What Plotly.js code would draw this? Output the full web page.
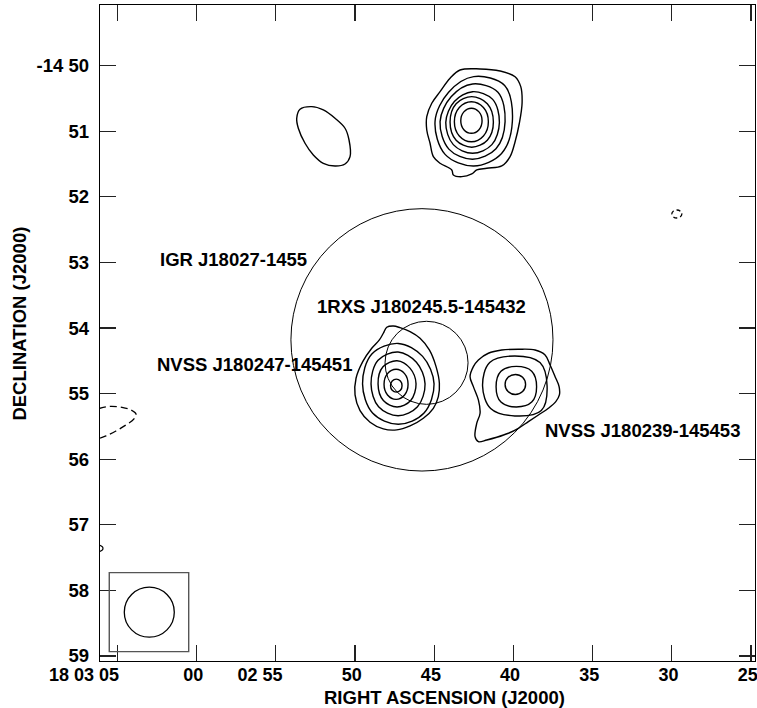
<!DOCTYPE html>
<html><head><meta charset="utf-8">
<script src="https://cdn.plot.ly/plotly-3.0.1.min.js"></script>
<style>html,body{margin:0;padding:0;background:#fff}</style>
</head><body><div id="chart" style="width:757px;height:708px"></div>
<script>
// ---------- axes (RA seconds after 18h02m, Dec arcmin beyond -14 deg) ----------
const raTickVals = [65, 60, 55, 50, 45, 40, 35, 30, 25];
const raTickText = ['18 03 05\u00a0', '00', '02 55', '50', '45', '40', '35', '30', '25'];
const decTickVals = [50, 51, 52, 53, 54, 55, 56, 57, 58, 59];
const decTickText = ['-14 50', '51', '52', '53', '54', '55', '56', '57', '58', '59'];
const raRange = [66.09, 24.75];
const decRange = [59.076, 49.075];

// ---------- contours: source north (RA ~42.6s, Dec ~50.85') ----------
const cA0_ra  = [43.365,42.102,40.839,39.892,39.533,39.450,39.621,39.892,40.208,40.732,41.679,42.310,42.626,43.257,43.788,43.889,44.627,45.050,45.259,45.467,45.467,45.151,44.627,43.996,43.365];
const cA0_dec = [50.066,50.050,50.081,50.168,50.320,50.569,50.874,51.159,51.387,51.529,51.564,51.590,51.651,51.692,51.666,51.590,51.488,51.387,51.183,50.980,50.778,50.573,50.396,50.192,50.066];
const cA1_ra  = [40.063,40.551,42.503,44.089,44.943,44.309,42.503,40.746,40.063];
const cA1_dec = [50.848,50.303,50.167,50.405,50.848,51.352,51.529,51.338,50.848];
const cA2_ra  = [40.523,40.974,42.575,43.929,44.627,44.073,42.575,41.098,40.523];
const cA2_dec = [50.853,50.405,50.279,50.474,50.853,51.272,51.427,51.266,50.853];
const cA3_ra  = [40.883,41.306,42.575,43.726,44.267,43.793,42.575,41.357,40.883];
const cA3_dec = [50.866,50.514,50.397,50.547,50.866,51.204,51.336,51.204,50.866];
const cA4_ra  = [41.262,41.645,42.629,43.613,43.996,43.613,42.629,41.645,41.262];
const cA4_dec = [50.858,50.580,50.472,50.580,50.858,51.136,51.244,51.136,50.858];
const cA5_ra  = [41.578,41.889,42.651,43.413,43.724,43.413,42.651,41.889,41.578];
const cA5_dec = [50.854,50.637,50.549,50.637,50.854,51.071,51.159,51.071,50.854];
const cA6_ra  = [41.976,42.171,42.648,43.125,43.320,43.125,42.648,42.171,41.976];
const cA6_dec = [50.840,50.704,50.649,50.704,50.840,50.976,51.031,50.976,50.840];

// ---------- contour: faint blob (RA ~52s, Dec ~51.1') ----------
const cB0_ra  = [53.466,52.727,51.995,51.256,50.625,50.372,50.309,50.625,51.256,51.995,52.626,53.150,53.573,53.674,53.466];
const cB0_dec = [50.665,50.625,50.675,50.802,50.954,51.133,51.387,51.499,51.529,51.488,51.361,51.183,50.954,50.802,50.665];

// ---------- contours: NVSS J180247-145451 ----------
const cC0_ra  = [48.207,47.992,47.575,47.152,46.521,45.890,45.303,44.880,44.671,44.735,45.050,45.682,46.521,47.361,48.207,49.046,49.678,49.993,49.930,49.507,48.939,48.459,48.207];
const cC0_dec = [54.079,53.988,53.968,53.994,54.055,54.156,54.334,54.588,54.842,55.046,55.223,55.375,55.492,55.553,55.538,55.436,55.259,55.020,54.765,54.512,54.308,54.181,54.079];
const cC1_ra  = [45.006,45.728,47.263,48.933,49.520,48.888,47.263,45.638,45.006];
const cC1_dec = [54.851,54.432,54.235,54.395,54.851,55.295,55.467,55.295,54.851];
const cC2_ra  = [45.574,46.120,47.279,48.541,48.984,48.507,47.279,46.051,45.574];
const cC2_dec = [54.851,54.521,54.366,54.492,54.851,55.201,55.337,55.201,54.851];
const cC3_ra  = [46.143,46.527,47.342,48.229,48.541,48.205,47.342,46.479,46.143];
const cC3_dec = [54.851,54.611,54.498,54.590,54.851,55.105,55.204,55.105,54.851];
const cC4_ra  = [46.647,46.867,47.405,47.943,48.163,47.943,47.405,46.867,46.647];
const cC4_dec = [54.858,54.695,54.628,54.695,54.858,55.021,55.088,55.021,54.858];
const cC5_ra  = [47.026,47.131,47.389,47.647,47.752,47.647,47.389,47.131,47.026];
const cC5_dec = [54.878,54.808,54.779,54.808,54.878,54.948,54.977,54.948,54.878];

// ---------- contours: NVSS J180239-145453 ----------
const cD0_ra  = [42.525,42.209,41.578,40.732,39.684,38.630,37.998,37.683,37.367,37.115,37.096,37.323,37.790,38.421,39.053,39.684,40.315,41.048,41.679,42.209,42.418,42.310,42.102,42.209,42.525,42.733,42.525];
const cD0_dec = [54.588,54.486,54.384,54.334,54.323,54.334,54.410,54.563,54.741,54.893,55.020,55.122,55.223,55.325,55.427,55.528,55.604,55.665,55.706,55.732,55.656,55.451,55.299,55.096,54.893,54.741,54.588];
const cD1_ra  = [37.872,38.320,39.908,41.496,41.944,41.435,39.908,38.238,37.872];
const cD1_dec = [54.883,54.527,54.426,54.527,54.883,55.226,55.340,55.258,54.883];
const cD2_ra  = [38.535,38.842,39.813,40.784,41.091,40.784,39.813,38.842,38.535];
const cD2_dec = [54.894,54.659,54.585,54.659,54.894,55.129,55.203,55.129,54.894];
const cD3_ra  = [39.229,39.417,39.876,40.335,40.523,40.335,39.876,39.417,39.229];
const cD3_dec = [54.860,54.752,54.708,54.752,54.860,54.968,55.012,54.968,54.860];

// ---------- small / negative contours ----------
const cNeg_ra  = [66.155,65.461,64.703,64.135,63.819,63.945,64.450,65.082,65.713,66.155];
const cNeg_dec = [55.226,55.195,55.210,55.249,55.310,55.386,55.477,55.569,55.645,55.683];
const cTiny_ra  = [29.368,29.461,29.684,29.907,30.000,29.907,29.684,29.461,29.368];
const cTiny_dec = [52.261,52.218,52.200,52.218,52.261,52.304,52.322,52.304,52.261];
const cEdge_ra  = [66.092,65.934,65.903,65.934,66.092];
const cEdge_dec = [57.314,57.337,57.360,57.383,57.406];

// ---------- circles: error circles and beam ----------
const circleNames = ['IGR', '1RXS', 'beam'];
const circleRA = [45.77, 45.48, 62.979];
const circleDec = [54.18, 54.53, 58.332];
const circleRadRA = [8.27, 2.62, 1.578];
const circleRadDec = [2.0, 0.633, 0.381];
const beamBoxRA = [65.505, 60.492];
const beamBoxDec = [57.729, 58.933];

// ---------- labels ----------
const labelText = ['IGR J18027-1455', '1RXS J180245.5-145432', 'NVSS J180247-145451', 'NVSS J180239-145453'];
const labelRA = [62.342, 52.430, 62.582, 38.093];
const labelDec = [52.953, 53.672, 54.550, 55.561];

// ---------- build ----------
const solid = [[cA0_ra,cA0_dec],[cA1_ra,cA1_dec],[cA2_ra,cA2_dec],[cA3_ra,cA3_dec],[cA4_ra,cA4_dec],[cA5_ra,cA5_dec],[cA6_ra,cA6_dec],
  [cB0_ra,cB0_dec],
  [cC0_ra,cC0_dec],[cC1_ra,cC1_dec],[cC2_ra,cC2_dec],[cC3_ra,cC3_dec],[cC4_ra,cC4_dec],[cC5_ra,cC5_dec],
  [cD0_ra,cD0_dec],[cD1_ra,cD1_dec],[cD2_ra,cD2_dec],[cD3_ra,cD3_dec]];
const traces = solid.map(p => ({x:p[0], y:p[1], type:'scatter', mode:'lines', hoverinfo:'skip',
  line:{color:'#000', width:1.4, shape:'spline', smoothing:1}}));
traces.push({x:cNeg_ra, y:cNeg_dec, type:'scatter', mode:'lines', hoverinfo:'skip',
  line:{color:'#000', width:1.3, shape:'spline', smoothing:1, dash:'7px,4px'}});
traces.push({x:cTiny_ra, y:cTiny_dec, type:'scatter', mode:'lines', hoverinfo:'skip',
  line:{color:'#000', width:1.3, shape:'spline', smoothing:1, dash:'4px,3px'}});
traces.push({x:cEdge_ra, y:cEdge_dec, type:'scatter', mode:'lines', hoverinfo:'skip',
  line:{color:'#000', width:1.2, shape:'spline', smoothing:1}});

const shapes = circleNames.map((n,i) => ({type:'circle', xref:'x', yref:'y',
  x0:circleRA[i]+circleRadRA[i], x1:circleRA[i]-circleRadRA[i],
  y0:circleDec[i]-circleRadDec[i], y1:circleDec[i]+circleRadDec[i],
  line:{color:'#000', width: n==='beam' ? 1.3 : 1}}));
shapes.push({type:'rect', xref:'x', yref:'y', x0:beamBoxRA[0], x1:beamBoxRA[1], y0:beamBoxDec[0], y1:beamBoxDec[1],
  line:{color:'#555', width:1.4}});

const fontBold = {family:'Liberation Sans, Arial, sans-serif', size:18.5, color:'#000', weight:'bold'};
const tickFontX = Object.assign({}, fontBold, {size:18});
const annotations = labelText.map((t,i) => ({x:labelRA[i], y:labelDec[i], xref:'x', yref:'y', text:t,
  showarrow:false, xanchor:'left', yanchor:'middle', font:fontBold, borderpad:0}));
annotations.push({text:'RIGHT ASCENSION (J2000)', xref:'paper', yref:'paper', x:0.5252, y:-0.0564,
  xanchor:'center', yanchor:'middle', showarrow:false, font:fontBold, borderpad:0});
annotations.push({text:'DECLINATION (J2000)', xref:'paper', yref:'paper', x:-0.1243, y:0.5137,
  xanchor:'center', yanchor:'middle', showarrow:false, textangle:-90, font:fontBold});

const axisCommon = {ticks:'inside', ticklen:16, tickwidth:1.2, tickcolor:'#222', showline:true, linecolor:'#000',
  linewidth:1.3, mirror:'ticks', showgrid:false, zeroline:false, tickfont:fontBold, fixedrange:true};

const layout = {
  width:757, height:708, margin:{l:100, r:2, t:5, b:47, pad:0},
  paper_bgcolor:'#fff', plot_bgcolor:'#fff', showlegend:false, font:fontBold,
  xaxis:Object.assign({}, axisCommon, {range:raRange, autorange:false, tickmode:'array', tickvals:raTickVals,
    ticktext:raTickText, tickangle:0, ticklabelposition:'outside left', ticklabelshift:-8,
    ticklabelstandoff:-3, ticklabeloverflow:'allow', tickfont:tickFontX}),
  yaxis:Object.assign({}, axisCommon, {range:decRange, autorange:false, tickmode:'array', tickvals:decTickVals,
    ticktext:decTickText, ticklabelstandoff:6}),
  shapes:shapes, annotations:annotations
};
Plotly.newPlot('chart', traces, layout, {displayModeBar:false, staticPlot:true});
</script></body></html>
